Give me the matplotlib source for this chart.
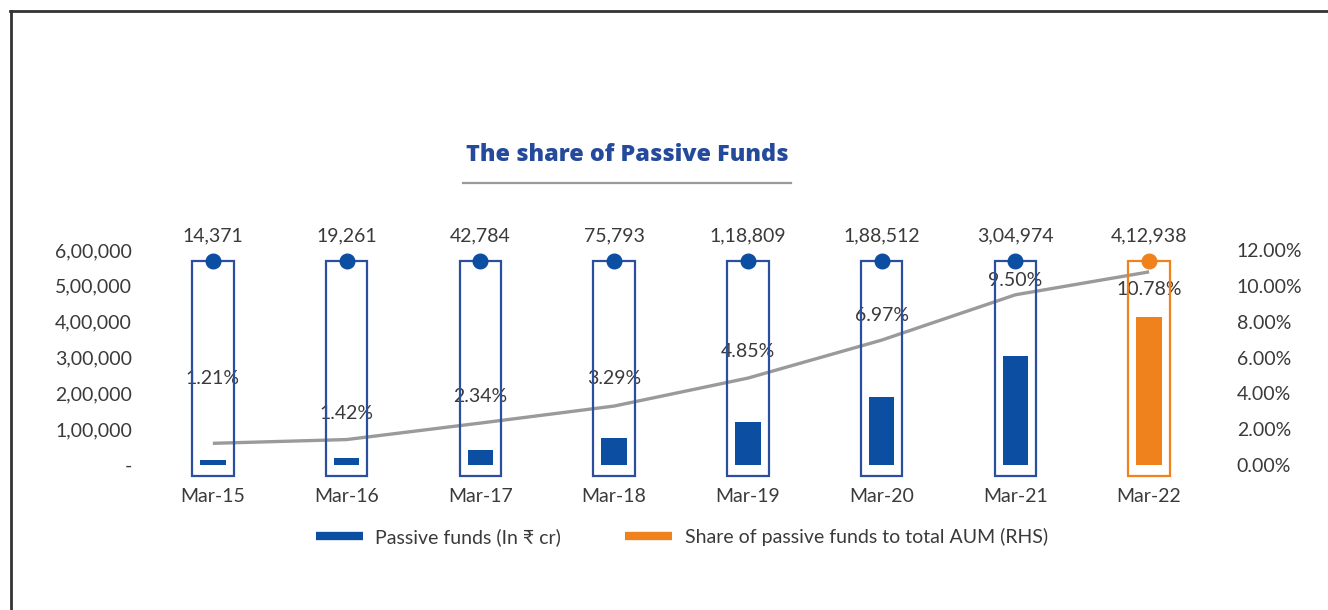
import matplotlib
matplotlib.use("Agg")
import matplotlib.pyplot as plt
from matplotlib.lines import Line2D
from matplotlib.ticker import FixedLocator, FuncFormatter

# ---- data -------------------------------------------------------------
categories = ["Mar-15", "Mar-16", "Mar-17", "Mar-18", "Mar-19", "Mar-20", "Mar-21", "Mar-22"]
passive_funds = [14371, 19261, 42784, 75793, 118809, 188512, 304974, 412938]   # In Rs cr
passive_share = [1.21, 1.42, 2.34, 3.29, 4.85, 6.97, 9.50, 10.78]              # % of total AUM
left_ticks = [0, 100000, 200000, 300000, 400000, 500000, 600000]
right_ticks = [0, 2, 4, 6, 8, 10, 12]

title = "The share of Passive Funds"
legend_labels = ["Passive funds (In \u20b9 cr)", "Share of passive funds to total AUM (RHS)"]

# ---- styling ----------------------------------------------------------
BLUE = "#0B4EA2"
BLUE_EDGE = "#2B4F9E"
ORANGE = "#F0821E"
GREY = "#9A9A9C"
TEXT = "#3A3A3A"
TITLE_BLUE = "#254A9B"
FONT = ["Lato", "DejaVu Sans"]
FS = 14

BOX_BOTTOM, BOX_TOP = -32000, 570000        # outline frame behind every bar
share_label_offsets = [47, 19, 19, 20, 19, 18, 10, -13]   # points above the line


def indian(n):
    s = str(int(n))
    if len(s) <= 3:
        return s
    head, tail = s[:-3], s[-3:]
    groups = []
    while len(head) > 2:
        groups.insert(0, head[-2:])
        head = head[:-2]
    if head:
        groups.insert(0, head)
    return ",".join(groups + [tail])


plt.rcParams["font.family"] = FONT

fig = plt.figure(figsize=(13.28, 6.10), dpi=100)
W, H = 1328, 610
ax_left, ax_right, ax_top, ax_bottom = 146, 1216, 200, 478
ax = fig.add_axes([ax_left / W, 1 - ax_bottom / H,
                   (ax_right - ax_left) / W, (ax_bottom - ax_top) / H])
ax2 = ax.twinx()

x = list(range(len(categories)))
n = len(categories)
colors = [BLUE] * (n - 1) + [ORANGE]
edges = [BLUE_EDGE] * (n - 1) + [ORANGE]

# outline frames and filled bars
ax.bar(x, [BOX_TOP - BOX_BOTTOM] * n, bottom=BOX_BOTTOM, width=0.31,
       fill=False, edgecolor=edges, linewidth=1.6, zorder=2)
ax.bar(x, passive_funds, width=0.19, color=colors, linewidth=0, zorder=3)

# top markers with value labels
for xi, v, c in zip(x, passive_funds, colors):
    ax.plot([xi], [BOX_TOP], "o", ms=10.5, color=c, zorder=5, clip_on=False)
    ax.annotate(indian(v), (xi, BOX_TOP), xytext=(0, 18), textcoords="offset points",
                ha="center", va="center", fontsize=FS, color=TEXT)

# share line on the right-hand axis
ax2.plot(x, passive_share, color=GREY, lw=2.4, zorder=4, solid_capstyle="butt")
for xi, p, off in zip(x, passive_share, share_label_offsets):
    ax2.annotate(f"{p:.2f}%", (xi, p), xytext=(0, off), textcoords="offset points",
                 ha="center", va="center", fontsize=FS, color=TEXT, zorder=6)

# scales
ax.set_xlim(-0.5, n - 0.5)
ax.set_ylim(-36279, 739535)
ax2.set_ylim(-36279 * 12 / 600000, 739535 * 12 / 600000)
ax.set_zorder(ax2.get_zorder() + 1)
ax.patch.set_visible(False)

ax.set_xticks(x)
ax.set_xticklabels(categories)
ax.yaxis.set_major_locator(FixedLocator(left_ticks))
ax.yaxis.set_major_formatter(FuncFormatter(lambda v, _: "-" if v == 0 else indian(v)))
ax2.yaxis.set_major_locator(FixedLocator(right_ticks))
ax2.yaxis.set_major_formatter(FuncFormatter(lambda v, _: f"{v:.2f}%"))

ax.tick_params(axis="x", length=0, pad=7, labelsize=FS, labelcolor=TEXT)
ax.tick_params(axis="y", length=0, pad=10, labelsize=FS, labelcolor=TEXT)
ax2.tick_params(axis="y", length=0, pad=15, labelsize=FS, labelcolor=TEXT)
for a in (ax, ax2):
    for s in a.spines.values():
        s.set_visible(False)

# title with rule underneath
fig.text(627 / W, 1 - 155 / H, title, ha="center", va="center",
         fontsize=16.8, fontweight=800, color=TITLE_BLUE,
         family=["Open Sans", "DejaVu Sans"])
fig.add_artist(Line2D([463 / W, 791 / W], [1 - 183 / H] * 2, color=GREY, lw=1.6))

# legend
handles = [Line2D([], [], color=BLUE, lw=6, solid_capstyle="butt"),
           Line2D([], [], color=ORANGE, lw=6, solid_capstyle="butt")]
fig.legend(handles, legend_labels, loc="center", bbox_to_anchor=(682 / W, 1 - 537 / H),
           ncol=2, frameon=False, fontsize=14, handlelength=2.4, handletextpad=0.65,
           columnspacing=3.3, labelcolor=TEXT)

# panel border (top and left edges)
fig.add_artist(Line2D([10 / W, 1], [1 - 10.5 / H] * 2, color="#333333", lw=2))
fig.add_artist(Line2D([11 / W] * 2, [0, 1 - 10.5 / H], color="#333333", lw=2))

fig.savefig("out.png", dpi=100)
